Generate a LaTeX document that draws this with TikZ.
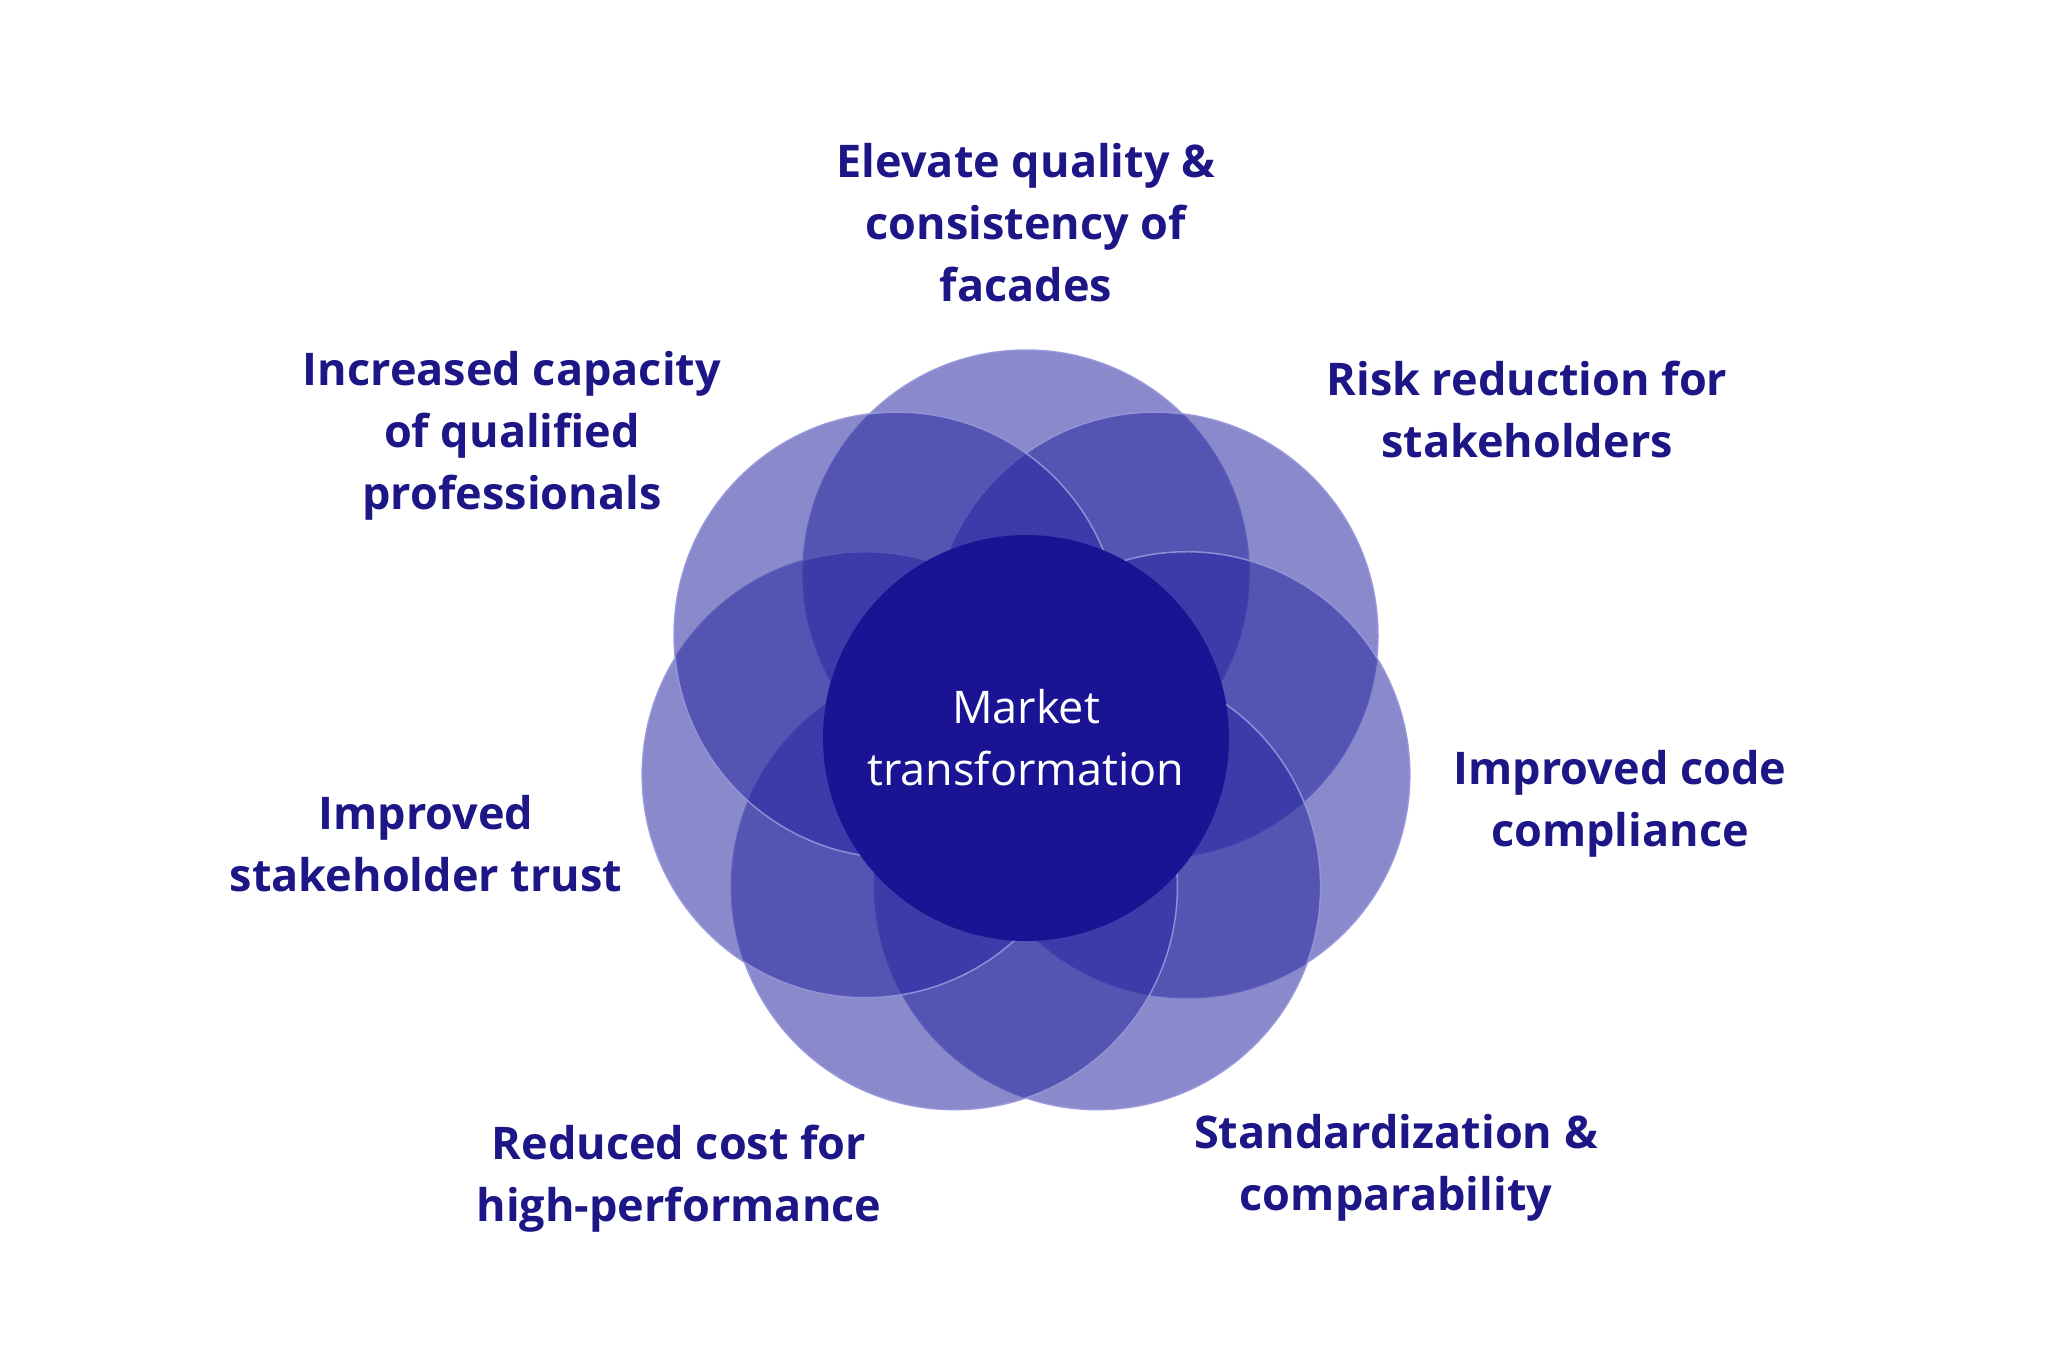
\documentclass[tikz,border=0pt]{standalone}
\usepackage{fontspec}
\setmainfont{Open Sans}
\usetikzlibrary{calc}
\begin{document}
\definecolor{petal}{RGB}{40,40,160}
\definecolor{petaledge}{RGB}{150,150,220}
\definecolor{core}{RGB}{26,20,148}
\definecolor{lbl}{RGB}{28,22,134}
\begin{tikzpicture}[x=1pt,y=-1pt,
  petal/.style={fill=petal,fill opacity=0.55,draw=petaledge,draw opacity=0.9,line width=1.5pt},
  lab/.style={text=lbl,font=\fontsize{45}{62}\selectfont\bfseries,align=center,anchor=center}]
\useasboundingbox (0,0) rectangle (2048,1365);
\coordinate (c) at (1026,738);
\foreach \a in {90,38.57,-12.86,-64.29,-115.71,-167.14,141.43}
  \path[petal] ($(c)+(\a:165 and -165)$) circle (223);
\node[circle,fill=core,minimum size=406pt,inner sep=0,text=white,align=center,
  font=\fontsize{45}{62}\selectfont] (core) at (c) {Market\\transformation};
\node[lab] (t1) at (1026,223) {Elevate quality \&\\consistency of\\facades};
\node[lab] (t2) at (1527,409) {Risk reduction for\\stakeholders};
\node[lab] (t3) at (1620,804) {Improved code\\compliance};
\node[lab] (t4) at (1396,1168) {Standardization \&\\comparability};
\node[lab] (t5) at (679,1179) {Reduced cost for\\high-performance};
\node[lab] (t6) at (426,844) {Improved\\stakeholder trust};
\node[lab] (t7) at (512,436) {Increased capacity\\of qualified\\professionals};
\end{tikzpicture}
\end{document}
